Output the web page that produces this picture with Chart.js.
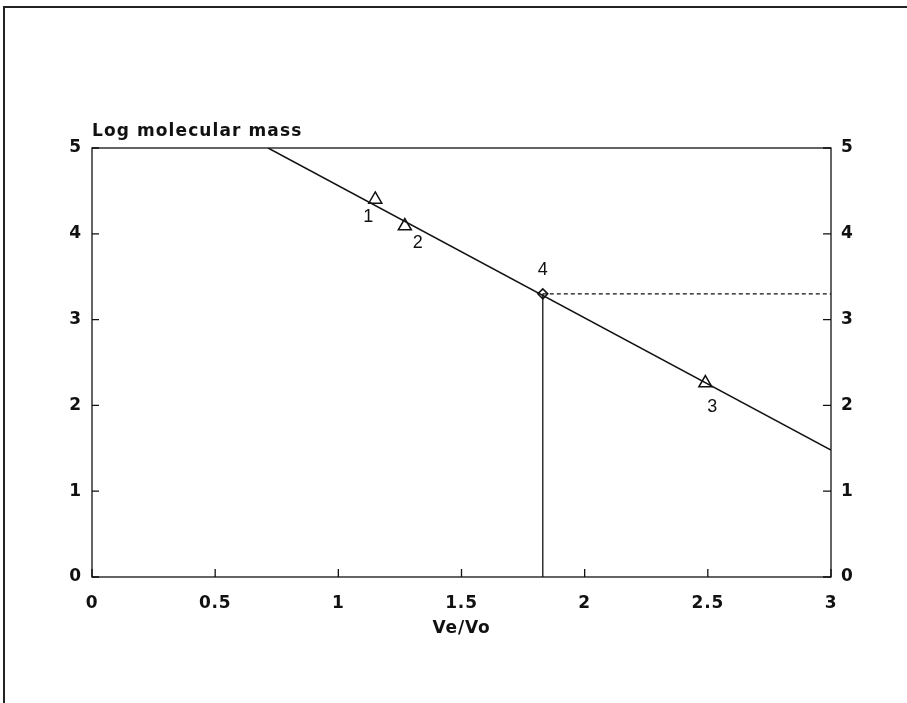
<!DOCTYPE html>
<html>
<head>
<meta charset="utf-8">
<script src="https://cdn.jsdelivr.net/npm/chart.js@4/dist/chart.umd.min.js"></script>
<style>
  body { margin: 0; background: #fff; }
</style>
</head>
<body>
<canvas id="calCanvas" width="907" height="703"></canvas>
<script>
// calibration line (Log molecular mass vs Ve/Vo)
let lineX = [0.715, 3];
let lineY = [5, 1.48];

// standards 1..3
let stdX = [1.15, 1.27, 2.49];
let stdY = [4.40, 4.09, 2.26];
let stdLabels = ["1", "2", "3"];

// unknown sample 4
let unkX = [1.83];
let unkY = [3.3];
let unkLabels = ["4"];

let xTicks = [0, 0.5, 1, 1.5, 2, 2.5, 3];
let yTicks = [0, 1, 2, 3, 4, 5];

let boldFont = "'DejaVu Sans', Verdana, sans-serif";
let plainFont = "'Liberation Sans', Arial, sans-serif";

function pts(xs, ys) {
    return xs.map((x, i) => ({ x: x, y: ys[i] }));
}

// little offsets for the point numbers, in px
let labelOffsets = {
    std: [[-7, 18], [13, 17], [7, 24]],
    unk: [[0, -24]]
};

// the scan's lettering is wide, so space it out a bit
let spacingPlugin = {
    id: "spacing",
    beforeDraw(chart) {
        chart.ctx.letterSpacing = "0.8px";
    }
};

let framePlugin = {
    id: "frame",
    afterDraw(chart) {
        let c = chart.ctx;
        let a = chart.chartArea;
        let xs = chart.scales.x, ys = chart.scales.y;
        c.save();
        // page frame (top + left only, like the scan)
        c.strokeStyle = "#222";
        c.lineWidth = 2;
        c.beginPath();
        c.moveTo(4, 703); c.lineTo(4, 7); c.lineTo(907, 7);
        c.stroke();

        // plot box
        c.lineWidth = 1.3;
        c.strokeStyle = "#111";
        c.strokeRect(a.left, a.top, a.right - a.left, a.bottom - a.top);

        // inward ticks
        c.beginPath();
        xTicks.forEach(v => {
            let px = xs.getPixelForValue(v);
            c.moveTo(px, a.bottom); c.lineTo(px, a.bottom - 8);
        });
        yTicks.forEach(v => {
            let py = ys.getPixelForValue(v);
            c.moveTo(a.left, py); c.lineTo(a.left + 7, py);
            c.moveTo(a.right, py); c.lineTo(a.right - 8, py);
        });
        c.stroke();

        // title on top of the y axis
        c.fillStyle = "#111";
        c.letterSpacing = "1.1px";
        c.font = "bold 17px " + boldFont;
        c.textAlign = "left";
        c.textBaseline = "alphabetic";
        c.fillText("Log molecular mass", a.left, a.top - 12);

        // point numbers
        c.letterSpacing = "0px";
        c.font = "18px " + plainFont;
        c.textAlign = "center";
        c.textBaseline = "middle";
        stdLabels.forEach((t, i) => {
            let o = labelOffsets.std[i];
            c.fillText(t, xs.getPixelForValue(stdX[i]) + o[0], ys.getPixelForValue(stdY[i]) + o[1]);
        });
        unkLabels.forEach((t, i) => {
            let o = labelOffsets.unk[i];
            c.fillText(t, xs.getPixelForValue(unkX[i]) + o[0], ys.getPixelForValue(unkY[i]) + o[1]);
        });
        c.restore();
    }
};

let tickFont = { family: boldFont, size: 17, weight: "bold" };

new Chart(document.getElementById("calCanvas"), {
    type: "scatter",
    data: {
        datasets: [
            {
                data: pts(lineX, lineY),
                showLine: true,
                borderColor: "#111",
                borderWidth: 1.5,
                pointRadius: 0
            },
            {
                // drop line to the x axis
                data: [{ x: unkX[0], y: 0 }, { x: unkX[0], y: unkY[0] }],
                showLine: true,
                borderColor: "#111",
                borderWidth: 1.3,
                pointRadius: 0
            },
            {
                // dotted line to the right axis
                data: [{ x: unkX[0], y: unkY[0] }, { x: 3, y: unkY[0] }],
                showLine: true,
                borderColor: "#111",
                borderWidth: 1.3,
                borderDash: [4, 3],
                pointRadius: 0
            },
            {
                data: pts(stdX, stdY),
                pointStyle: "triangle",
                pointRadius: 7.5,
                borderColor: "#111",
                borderWidth: 1.5,
                backgroundColor: "#fff"
            },
            {
                data: pts(unkX, unkY),
                pointStyle: "rectRot",
                pointRadius: 5,
                borderColor: "#111",
                borderWidth: 1.5,
                backgroundColor: "#fff"
            }
        ]
    },
    options: {
        responsive: false,
        animation: false,
        layout: { padding: { top: 148, left: 0, right: 0, bottom: 63 } },
        plugins: { legend: { display: false }, tooltip: { enabled: false } },
        scales: {
            x: {
                type: "linear",
                min: 0, max: 3,
                afterBuildTicks(s) { s.ticks = xTicks.map(v => ({ value: v })); },
                afterFit(s) { s.height = 63; },
                grid: { display: false, drawTicks: false },
                border: { display: false },
                ticks: { color: "#111", font: tickFont, padding: 16, maxRotation: 0,
                         callback: v => String(v) },
                title: { display: true, text: "Ve/Vo", color: "#111",
                         font: { family: boldFont, size: 17, weight: "bold" }, padding: { top: 0, bottom: 1 } }
            },
            y: {
                type: "linear",
                position: "left",
                min: 0, max: 5,
                afterBuildTicks(s) { s.ticks = yTicks.map(v => ({ value: v })); },
                afterFit(s) { s.width = 92; },
                grid: { display: false, drawTicks: false },
                border: { display: false },
                ticks: { color: "#111", font: tickFont, padding: 10 }
            },
            y2: {
                type: "linear",
                position: "right",
                min: 0, max: 5,
                afterBuildTicks(s) { s.ticks = yTicks.map(v => ({ value: v })); },
                afterFit(s) { s.width = 76; },
                grid: { display: false, drawTicks: false },
                border: { display: false },
                ticks: { color: "#111", font: tickFont, padding: 10 }
            }
        }
    },
    plugins: [spacingPlugin, framePlugin]
});
</script>
</body>
</html>
